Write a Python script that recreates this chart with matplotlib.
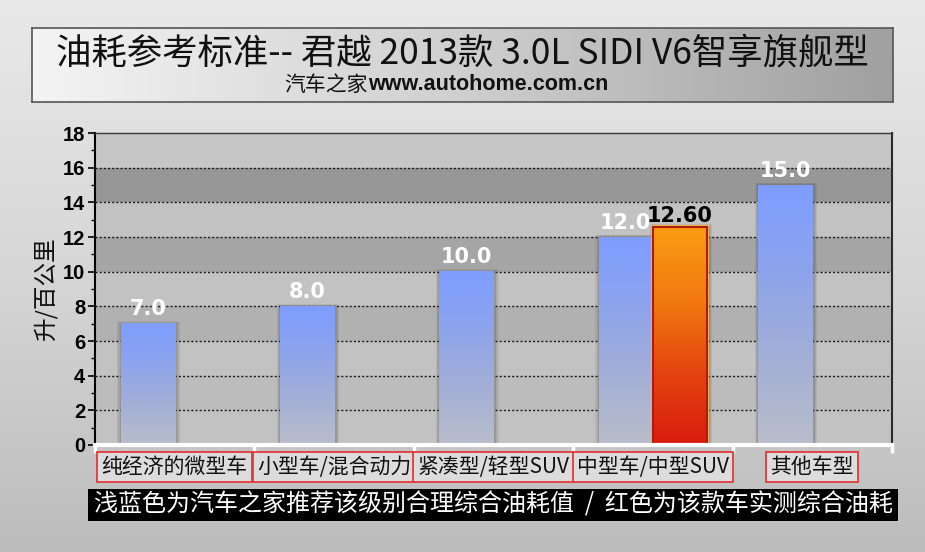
import numpy as np
import matplotlib
matplotlib.use("Agg")
import matplotlib.pyplot as plt
from matplotlib.patches import Rectangle
from matplotlib.colors import LinearSegmentedColormap
import matplotlib.transforms as mtransforms

plt.rcParams['font.family'] = ['Noto Sans CJK SC', 'DejaVu Sans']

# ---------------- data ----------------
categories = ['纯经济的微型车', '小型车/混合动力', '紧凑型/轻型SUV', '中型车/中型SUV', '其他车型']
recommended = [7.0, 8.0, 10.0, 12.0, 15.0]
measured = [np.nan, np.nan, np.nan, 12.60, np.nan]
yticks = [0, 2, 4, 6, 8, 10, 12, 14, 16, 18]
title_text = '油耗参考标准-- 君越 2013款 3.0L SIDI V6智享旗舰型'
subtitle_cn = '汽车之家'
subtitle_url = 'www.autohome.com.cn'
ylabel_text = '升/百公里'
footer_text = '浅蓝色为汽车之家推荐该级别合理综合油耗值  /  红色为该款车实测综合油耗'

W, H = 925, 552
fig = plt.figure(figsize=(W / 100, H / 100), dpi=100)

# ---------------- figure background gradient ----------------
bg = fig.add_axes([0, 0, 1, 1], zorder=-10)
grad = np.linspace(0, 1, 256).reshape(-1, 1)
bg_cmap = LinearSegmentedColormap.from_list('bg', ['#e9e9e9', '#d6d6d6', '#bcbcbc'])
bg.imshow(grad, aspect='auto', cmap=bg_cmap, extent=(0, 1, 0, 1), origin='upper')
bg.set_axis_off()

# ---------------- title box ----------------
tb = fig.add_axes([32 / W, 1 - 102 / H, (893 - 32) / W, 74 / H], zorder=-5)
hgrad = np.linspace(0, 1, 256).reshape(1, -1)
tb_cmap = LinearSegmentedColormap.from_list('tb', ['#f4f4f4', '#cfcfcf', '#a0a0a0'])
tb.imshow(hgrad, aspect='auto', cmap=tb_cmap, extent=(0, 1, 0, 1))
tb.set_xticks([]); tb.set_yticks([])
for s in tb.spines.values():
    s.set_color('#555555'); s.set_linewidth(1.2)

fig.text(462 / W, 1 - 53 / H, title_text, ha='center', va='center',
         fontsize=25.5, color='#111111', family=['Noto Sans CJK SC', 'DejaVu Sans'])
fig.text(368 / W, 1 - 85 / H, subtitle_cn, ha='right', va='center',
         fontsize=15, color='#111111')
fig.text(368 / W, 1 - 85 / H, subtitle_url, ha='left', va='center',
         fontsize=15.5, fontweight='bold', color='#111111', family=['Liberation Sans', 'DejaVu Sans'])

# ---------------- main axes ----------------
ax = fig.add_axes([95 / W, 1 - 445 / H, (892 - 95) / W, 312 / H])
ax.set_facecolor('#c2c2c2')
n = len(categories)
x = np.arange(n)

# alternating bands
band_colors = {(14, 16): '#979797', (10, 12): '#a5a5a5', (6, 8): '#b1b1b1', (2, 4): '#bcbcbc'}
for (lo, hi), c in band_colors.items():
    ax.axhspan(lo, hi, color=c, zorder=0, lw=0)
ax.axhspan(16, 18, color='#c6c6c6', zorder=0, lw=0)

# grid
for yv in yticks[1:-1]:
    ax.axhline(yv, color='#1a1a1a', lw=1.0, ls=(0, (1.5, 1.5)), zorder=1)

bw = 0.339
off = 0.17
blue_cmap = LinearSegmentedColormap.from_list('blue', ['#b9bdca', '#a3afd6', '#8da4ec', '#7e9dff'])
red_cmap = LinearSegmentedColormap.from_list('red', ['#d81c10', '#e4450f', '#f27a10', '#fa9d12'])
vgrad = np.linspace(0, 1, 256).reshape(-1, 1)


def draw_shadow(x0, x1, h):
    for k, a in zip([0.045, 0.032, 0.02], [0.10, 0.13, 0.17]):
        ax.add_patch(Rectangle((x0 - k * 0.6 + 0.006, 0), (x1 - x0) + 2 * k * 0.6, h + k * 3.0,
                               facecolor='#4a4a4a', alpha=a, lw=0, zorder=2))


for i in range(n):
    v = recommended[i]
    x0 = x[i] - off - bw / 2
    x1 = x0 + bw
    draw_shadow(x0, x1, v)
    ax.imshow(vgrad, aspect='auto', cmap=blue_cmap, extent=(x0, x1, 0, v), origin='lower', zorder=3)
    ax.annotate(f'{v:.1f}', (x[i] - off, v), xytext=(0, 6), textcoords='offset points',
                ha='center', va='baseline', fontsize=15, fontweight='bold', color='white',
                family='DejaVu Sans', zorder=6)
    m = measured[i]
    if not np.isnan(m):
        mx0 = x[i] + off - bw / 2
        mx1 = mx0 + bw
        draw_shadow(mx0, mx1, m)
        ax.add_patch(Rectangle((mx0, 0), bw, m, facecolor='none', edgecolor='#f2b84a', lw=3.0, zorder=3))
        ax.imshow(vgrad, aspect='auto', cmap=red_cmap, extent=(mx0, mx1, 0, m), origin='lower', zorder=4)
        ax.add_patch(Rectangle((mx0, 0), bw, m, facecolor='none', edgecolor='#b01a10', lw=1.5, zorder=5))
        ax.annotate(f'{m:.2f}', (x[i] + off, m), xytext=(0, 3.5), textcoords='offset points',
                    ha='center', va='baseline', fontsize=15, fontweight='bold', color='black',
                    family='DejaVu Sans', zorder=7)

ax.set_xlim(-0.5, n - 0.5)
ax.set_ylim(0, 18)

# y axis
ax.set_yticks(yticks)
ax.set_yticklabels([str(t) for t in yticks], fontsize=14.5, fontweight='bold',
                   family=['Liberation Sans', 'DejaVu Sans'])
ax.set_yticks(np.arange(1, 18, 2), minor=True)
ax.tick_params(axis='y', which='major', length=5, width=1.2, color='black', pad=2, direction='out')
ax.tick_params(axis='y', which='minor', length=3, width=1.0, color='black', direction='out')

# x axis: white boundary ticks
ax.set_xticks(np.arange(-0.5, n, 1.0))
ax.set_xticklabels([])
ax.tick_params(axis='x', which='major', length=6, width=2.5, color='white', direction='out')

ax.spines['left'].set_color('black'); ax.spines['left'].set_linewidth(1.5)
ax.spines['top'].set_color('#3a3a3a'); ax.spines['top'].set_linewidth(1.0)
ax.spines['right'].set_color('#2a2a2a'); ax.spines['right'].set_linewidth(1.5)
ax.spines['bottom'].set_color('white'); ax.spines['bottom'].set_linewidth(3)
for s in ax.spines.values():
    s.set_zorder(8)

ax.set_ylabel(ylabel_text, fontsize=17, labelpad=4, color='#111111')

# category labels in red boxes
trans = mtransforms.blended_transform_factory(ax.transData, ax.transAxes)
for i, c in enumerate(categories):
    ax.text(x[i], -0.071, c, transform=trans, ha='center', va='center', fontsize=15,
            color='#111111', family=['Noto Sans CJK SC', 'DejaVu Sans'],
            bbox=dict(boxstyle='square,pad=0.2', facecolor='#dcdcdc', edgecolor='#e03a3a', lw=1.3),
            clip_on=False)

# ---------------- footer black box ----------------
fig.patches.append(Rectangle((88 / W, 1 - 521 / H), 810 / W, 32 / H, transform=fig.transFigure,
                             facecolor='black', edgecolor='none', zorder=5))
fig.text(94 / W, 1 - 505 / H, footer_text, ha='left', va='center', fontsize=17.3,
         color='white', zorder=6)

fig.savefig('out.png', dpi=100)
